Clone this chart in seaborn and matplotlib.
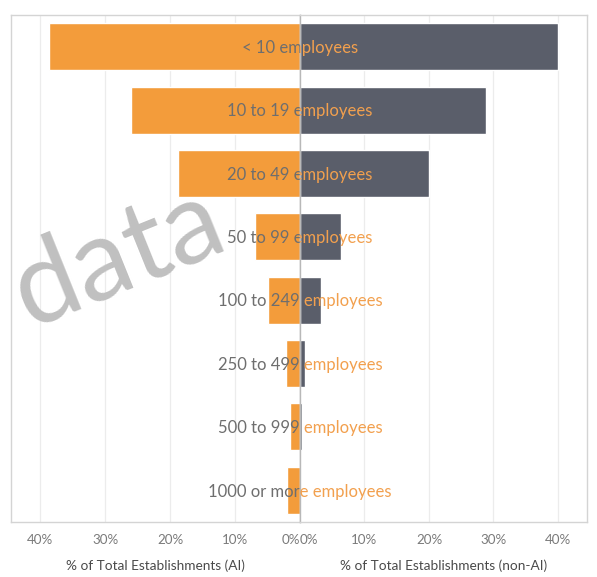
"""
plot.py
Butterfly bar chart: share of establishments by size, AI vs non-AI.
"""

import matplotlib
matplotlib.use('Agg')
import matplotlib.pyplot as plt
import seaborn as sns
import pandas as pd


# ── data ───────────────────────────────────────────────────────────────────────

SIZE_CLASSES = [
    '< 10 employees',
    '10 to 19 employees',
    '20 to 49 employees',
    '50 to 99 employees',
    '100 to 249 employees',
    '250 to 499 employees',
    '500 to 999 employees',
    '1000 or more employees',
]
AI_PCT     = [38.6, 26.0, 18.8, 6.9, 5.0, 2.2, 1.5, 2.0]
NON_AI_PCT = [40.0, 28.8, 20.0, 6.3, 3.2, 0.7, 0.25, 0.05]
TICKS      = [0, 10, 20, 30, 40]

ORANGE     = '#f39c3b'
SLATE      = '#5a5e6a'
TEXT_GREY  = '#6e6e6e'
TEXT_ORNG  = '#f2a04e'
GRID       = '#ececec'
BORDER     = '#d4d4d4'

XMAX = 44.5

df = pd.DataFrame({'size': SIZE_CLASSES, 'ai': AI_PCT, 'non_ai': NON_AI_PCT})

sns.set_style('white')
plt.rcParams['font.family'] = ['Lato', 'DejaVu Sans']

fig = plt.figure(figsize=(5.97, 5.77), dpi=100)
W, H = 597, 577
bottom, top = 522, 15
ax_l = fig.add_axes([11 / W, (H - bottom) / H, 289 / W, (bottom - top) / H])
ax_r = fig.add_axes([300 / W, (H - bottom) / H, 287 / W, (bottom - top) / H])

sns.barplot(data=df, y='size', x='ai', color=ORANGE, saturation=1,
            width=0.74, orient='h', ax=ax_l)
sns.barplot(data=df, y='size', x='non_ai', color=SLATE, saturation=1,
            width=0.74, orient='h', ax=ax_r)

ax_l.set_xlim(XMAX, 0)
ax_r.set_xlim(0, XMAX)

for ax in (ax_l, ax_r):
    ax.set_ylim(len(SIZE_CLASSES) - 0.5, -0.5)
    ax.set_yticks([])
    ax.set_ylabel('')
    ax.set_xticks(TICKS)
    ax.set_xticklabels([f'{t}%' for t in TICKS], fontsize=9.6, color='#7a7a7a')
    ax.tick_params(axis='x', length=0, pad=9)
    for t in TICKS[1:]:
        ax.axvline(t, color=GRID, lw=0.9, zorder=0)
    for s in ax.spines.values():
        s.set_color(BORDER)
        s.set_linewidth(1.0)

ax_l.spines['right'].set_color('#b8b8b8')
ax_r.spines['left'].set_color('#b8b8b8')

# keep the two 0% labels off the centre line
ax_l.get_xticklabels()[0].set_ha('right')
ax_r.get_xticklabels()[0].set_ha('left')
ax_r.get_xticklabels()[0].set_x(0.8)

ax_l.set_xlabel('% of Total Establishments (AI)', fontsize=9.8,
                color='#4a4a4a', labelpad=9)
ax_r.set_xlabel('% of Total Establishments (non-AI)', fontsize=9.8,
                color='#4a4a4a', labelpad=9)

# category labels centred on zero: grey over the left panel, orange over the right
for i, name in enumerate(SIZE_CLASSES):
    ax_l.text(0, i + 0.02, name, ha='center', va='center', fontsize=12,
              color=TEXT_GREY, clip_on=True, zorder=5)
    ax_r.text(0, i + 0.02, name, ha='center', va='center', fontsize=12,
              color=TEXT_ORNG, clip_on=True, zorder=5)

# watermark
fig.text(118 / W, 1 - 258 / H, 'data', fontsize=82, color='#c0c0c0',
         rotation=22, ha='center', va='center', zorder=10)

fig.savefig('out.png', dpi=100)
